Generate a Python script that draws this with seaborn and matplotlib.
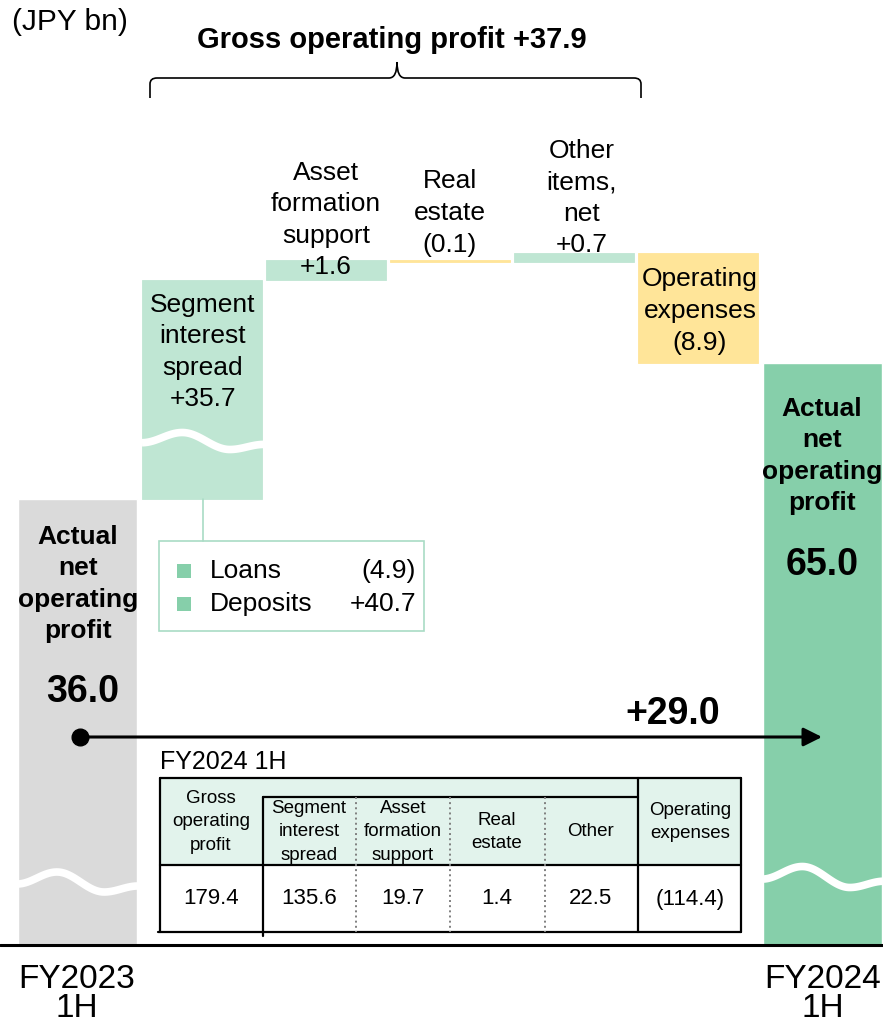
import numpy as np
import pandas as pd
import seaborn as sns
import matplotlib.pyplot as plt
from matplotlib.patches import Rectangle, PathPatch
from matplotlib.path import Path

# chart data (JPY bn)
steps = ["FY2023 1H", "Segment interest spread", "Asset formation support",
         "Real estate", "Other items, net", "Operating expenses", "FY2024 1H"]
start_value = 36.0
end_value = 65.0
deltas = [35.7, 1.6, -0.1, 0.7, -8.9]
delta_labels = ["Segment\ninterest\nspread\n+35.7", "Asset\nformation\nsupport\n+1.6",
                "Real\nestate\n(0.1)", "Other\nitems,\nnet\n+0.7", "Operating\nexpenses\n(8.9)"]
gross_change = "+37.9"
total_change = "+29.0"
breakdown_names = ["Loans", "Deposits"]
breakdown_values = ["(4.9)", "+40.7"]
table_headers = ["Gross\noperating\nprofit", "Segment\ninterest\nspread", "Asset\nformation\nsupport",
                 "Real\nestate", "Other", "Operating\nexpenses"]
table_values = ["179.4", "135.6", "19.7", "1.4", "22.5", "(114.4)"]

GRAY = "#DADADA"
GREEN = "#86CFAA"
LIGHT_GREEN = "#BFE6D3"
YELLOW = "#FFE599"
MINT = "#E2F3EC"

sns.set_theme(style="white")
plt.rcParams["font.family"] = ["Liberation Sans", "DejaVu Sans"]
plt.rcParams["text.color"] = "black"

W, H = 883, 1023
fig = plt.figure(figsize=(W / 100, H / 100), dpi=100)
ax = fig.add_axes([0, 0, 1, 1])


def fx(px):
    return px / W


def fy(py):
    return 1 - py / H


def txt(px, py, s, size=19, ha="center", va="center", **kw):
    kw.setdefault("linespacing", 1.4)
    fig.text(fx(px), fy(py), s, fontsize=size, ha=ha, va=va, **kw)


# waterfall bars
levels = start_value + np.cumsum(deltas)
prev = np.r_[start_value, levels[:-1]]
bottoms = np.minimum(prev, levels)
heights = np.abs(deltas)
colors = [LIGHT_GREEN if d > 0 else YELLOW for d in deltas]

BAR_W = 0.966
totals = pd.DataFrame({"step": [steps[0], steps[-1]], "value": [start_value, end_value]})
sns.barplot(data=totals, x="step", y="value", order=steps, hue="step",
            hue_order=[steps[0], steps[-1]], palette=[GRAY, GREEN], width=BAR_W,
            saturation=1, errorbar=None, legend=False, ax=ax)
ax.bar(np.arange(1, len(deltas) + 1), heights, bottom=bottoms, width=BAR_W,
       color=colors, edgecolor=colors, linewidth=0.6)

# broken (piecewise) value axis, as in the original slide
KV = np.array([-100, 0, start_value, end_value, 200])
KP = np.array([945 + 100 * 12.36, 945, 499, 363, 363 - 135 * 12.36])
KH = H - KP


def fwd(v):
    return np.interp(v, KV, KH)


def inv(h):
    return np.interp(h, KH, KV)


ax.set_yscale("function", functions=(fwd, inv))
ax.set_ylim(inv(0), inv(H))
ax.set_xlim(-77.5 / 124.17, (W - 77.5) / 124.17)
ax.axhline(0, color="black", lw=2.2, zorder=5)
ax.axis("off")


# wavy break marks
def wave(x0, x1, yc, amp):
    t = np.linspace(0, 1, 80)
    kt = [0, 0.33, 0.72, 1]
    ky = [0.2, -1, 1, 0.4]
    ys = np.empty_like(t)
    for i in range(3):
        m = (t >= kt[i]) & (t <= kt[i + 1])
        u = (t[m] - kt[i]) / (kt[i + 1] - kt[i])
        s = (1 - np.cos(np.pi * u)) / 2
        ys[m] = ky[i] + (ky[i + 1] - ky[i]) * s
    xs = x0 + (x1 - x0) * t
    fig.add_artist(plt.Line2D(fx(xs), fy(yc + amp * ys), color="white", lw=5.5,
                              solid_capstyle="butt", zorder=6))


wave(17, 138, 882, 10)
wave(142, 264, 441, 8.5)
wave(762, 884, 877, 10.5)

# bar annotations
label_pos = [(203, 352), (326, 220), (450, 213), (582, 198), (700, 311)]
for (px, py), s in zip(label_pos, delta_labels):
    txt(px, py, s)

txt(78, 584, "Actual\nnet\noperating\nprofit", weight="bold", linespacing=1.37)
txt(83, 692, f"{start_value:.1f}", size=27, weight="bold")
txt(822, 456, "Actual\nnet\noperating\nprofit", weight="bold", linespacing=1.37)
txt(822, 565, f"{end_value:.1f}", size=27, weight="bold")
txt(673, 714, total_change, size=27, weight="bold")

# change arrow
ax.annotate("", xy=(fx(822), fy(737)), xytext=(fx(80), fy(737)),
            xycoords="figure fraction", textcoords="figure fraction",
            arrowprops=dict(arrowstyle="-|>", lw=2.2, color="black",
                            mutation_scale=28, shrinkA=0, shrinkB=0), zorder=7)
fig.add_artist(plt.Line2D([fx(80)], [fy(737)], marker="o", ms=12, color="black", zorder=7))

# header, unit and brace
txt(12, 22, "(JPY bn)", size=21.5, ha="left")
txt(392, 40, f"Gross operating profit {gross_change}", size=21, weight="bold")
bp = [(150, 98), (150, 84), (150, 78), (157, 78), (389, 78), (397, 78), (397, 62),
      (397, 78), (405, 78), (634, 78), (641, 78), (641, 84), (641, 98)]
codes = [Path.MOVETO, Path.LINETO, Path.CURVE3, Path.CURVE3, Path.LINETO, Path.CURVE3,
         Path.CURVE3, Path.CURVE3, Path.CURVE3, Path.LINETO, Path.CURVE3, Path.CURVE3, Path.LINETO]
brace = Path([(fx(x), fy(y)) for x, y in bp], codes)
fig.add_artist(PathPatch(brace, transform=fig.transFigure, fill=False, lw=1.2, color="black"))

# breakdown box for segment interest spread
fig.add_artist(plt.Line2D([fx(203), fx(203)], [fy(499), fy(541)], color="#A9DCC5", lw=1.2))
fig.add_artist(Rectangle((fx(159), fy(631)), fx(265), 90 / H, transform=fig.transFigure,
                         fill=False, edgecolor="#A9DCC5", lw=1.2))
for i, (name, val) in enumerate(zip(breakdown_names, breakdown_values)):
    yy = 571 + 33 * i
    fig.add_artist(Rectangle((fx(177), fy(yy + 7)), fx(14), 14 / H,
                             transform=fig.transFigure, color=GREEN, lw=0))
    txt(210, yy, name, ha="left")
    txt(416, yy, val, ha="right")

# FY2024 1H table
txt(160, 762, "FY2024 1H", size=18, ha="left")
tl, tr, tt, tm, tb = 160, 741, 778, 865, 932
fig.add_artist(Rectangle((fx(tl), fy(tm)), fx(tr - tl), (tm - tt) / H,
                         transform=fig.transFigure, color=MINT, lw=0))


def hline(x0, x1, y, **kw):
    fig.add_artist(plt.Line2D([fx(x0), fx(x1)], [fy(y), fy(y)], color="black", lw=1.6, **kw))


def vline(x, y0, y1, **kw):
    opts = dict(color="black", lw=1.6)
    opts.update(kw)
    fig.add_artist(plt.Line2D([fx(x), fx(x)], [fy(y0), fy(y1)], **opts))


hline(tl, tr, tt)
hline(263, 638, 797)
hline(tl, tr, tm)
hline(tl - 2, tr, tb)
vline(tl, tt, tb)
vline(tr, tt, tb)
vline(263, 797, tb + 4)
vline(638, tt, tb)
for xv in [356, 450, 545]:
    vline(xv, 797, tb, color="#7F7F7F", lw=1.4, ls=":")

col_x = [211, 309, 403, 497, 591, 690]
head_y = [822, 832, 832, 832, 831, 822]
for cx, hy, h, v in zip(col_x, head_y, table_headers, table_values):
    txt(cx, hy, h, size=13.5, linespacing=1.5)
    txt(cx, 899, v, size=16)

# period labels
txt(77, 994, "FY2023\n1H", size=24, linespacing=0.9)
txt(823, 994, "FY2024\n1H", size=24, linespacing=0.9)

fig.savefig("out.png", dpi=100)
